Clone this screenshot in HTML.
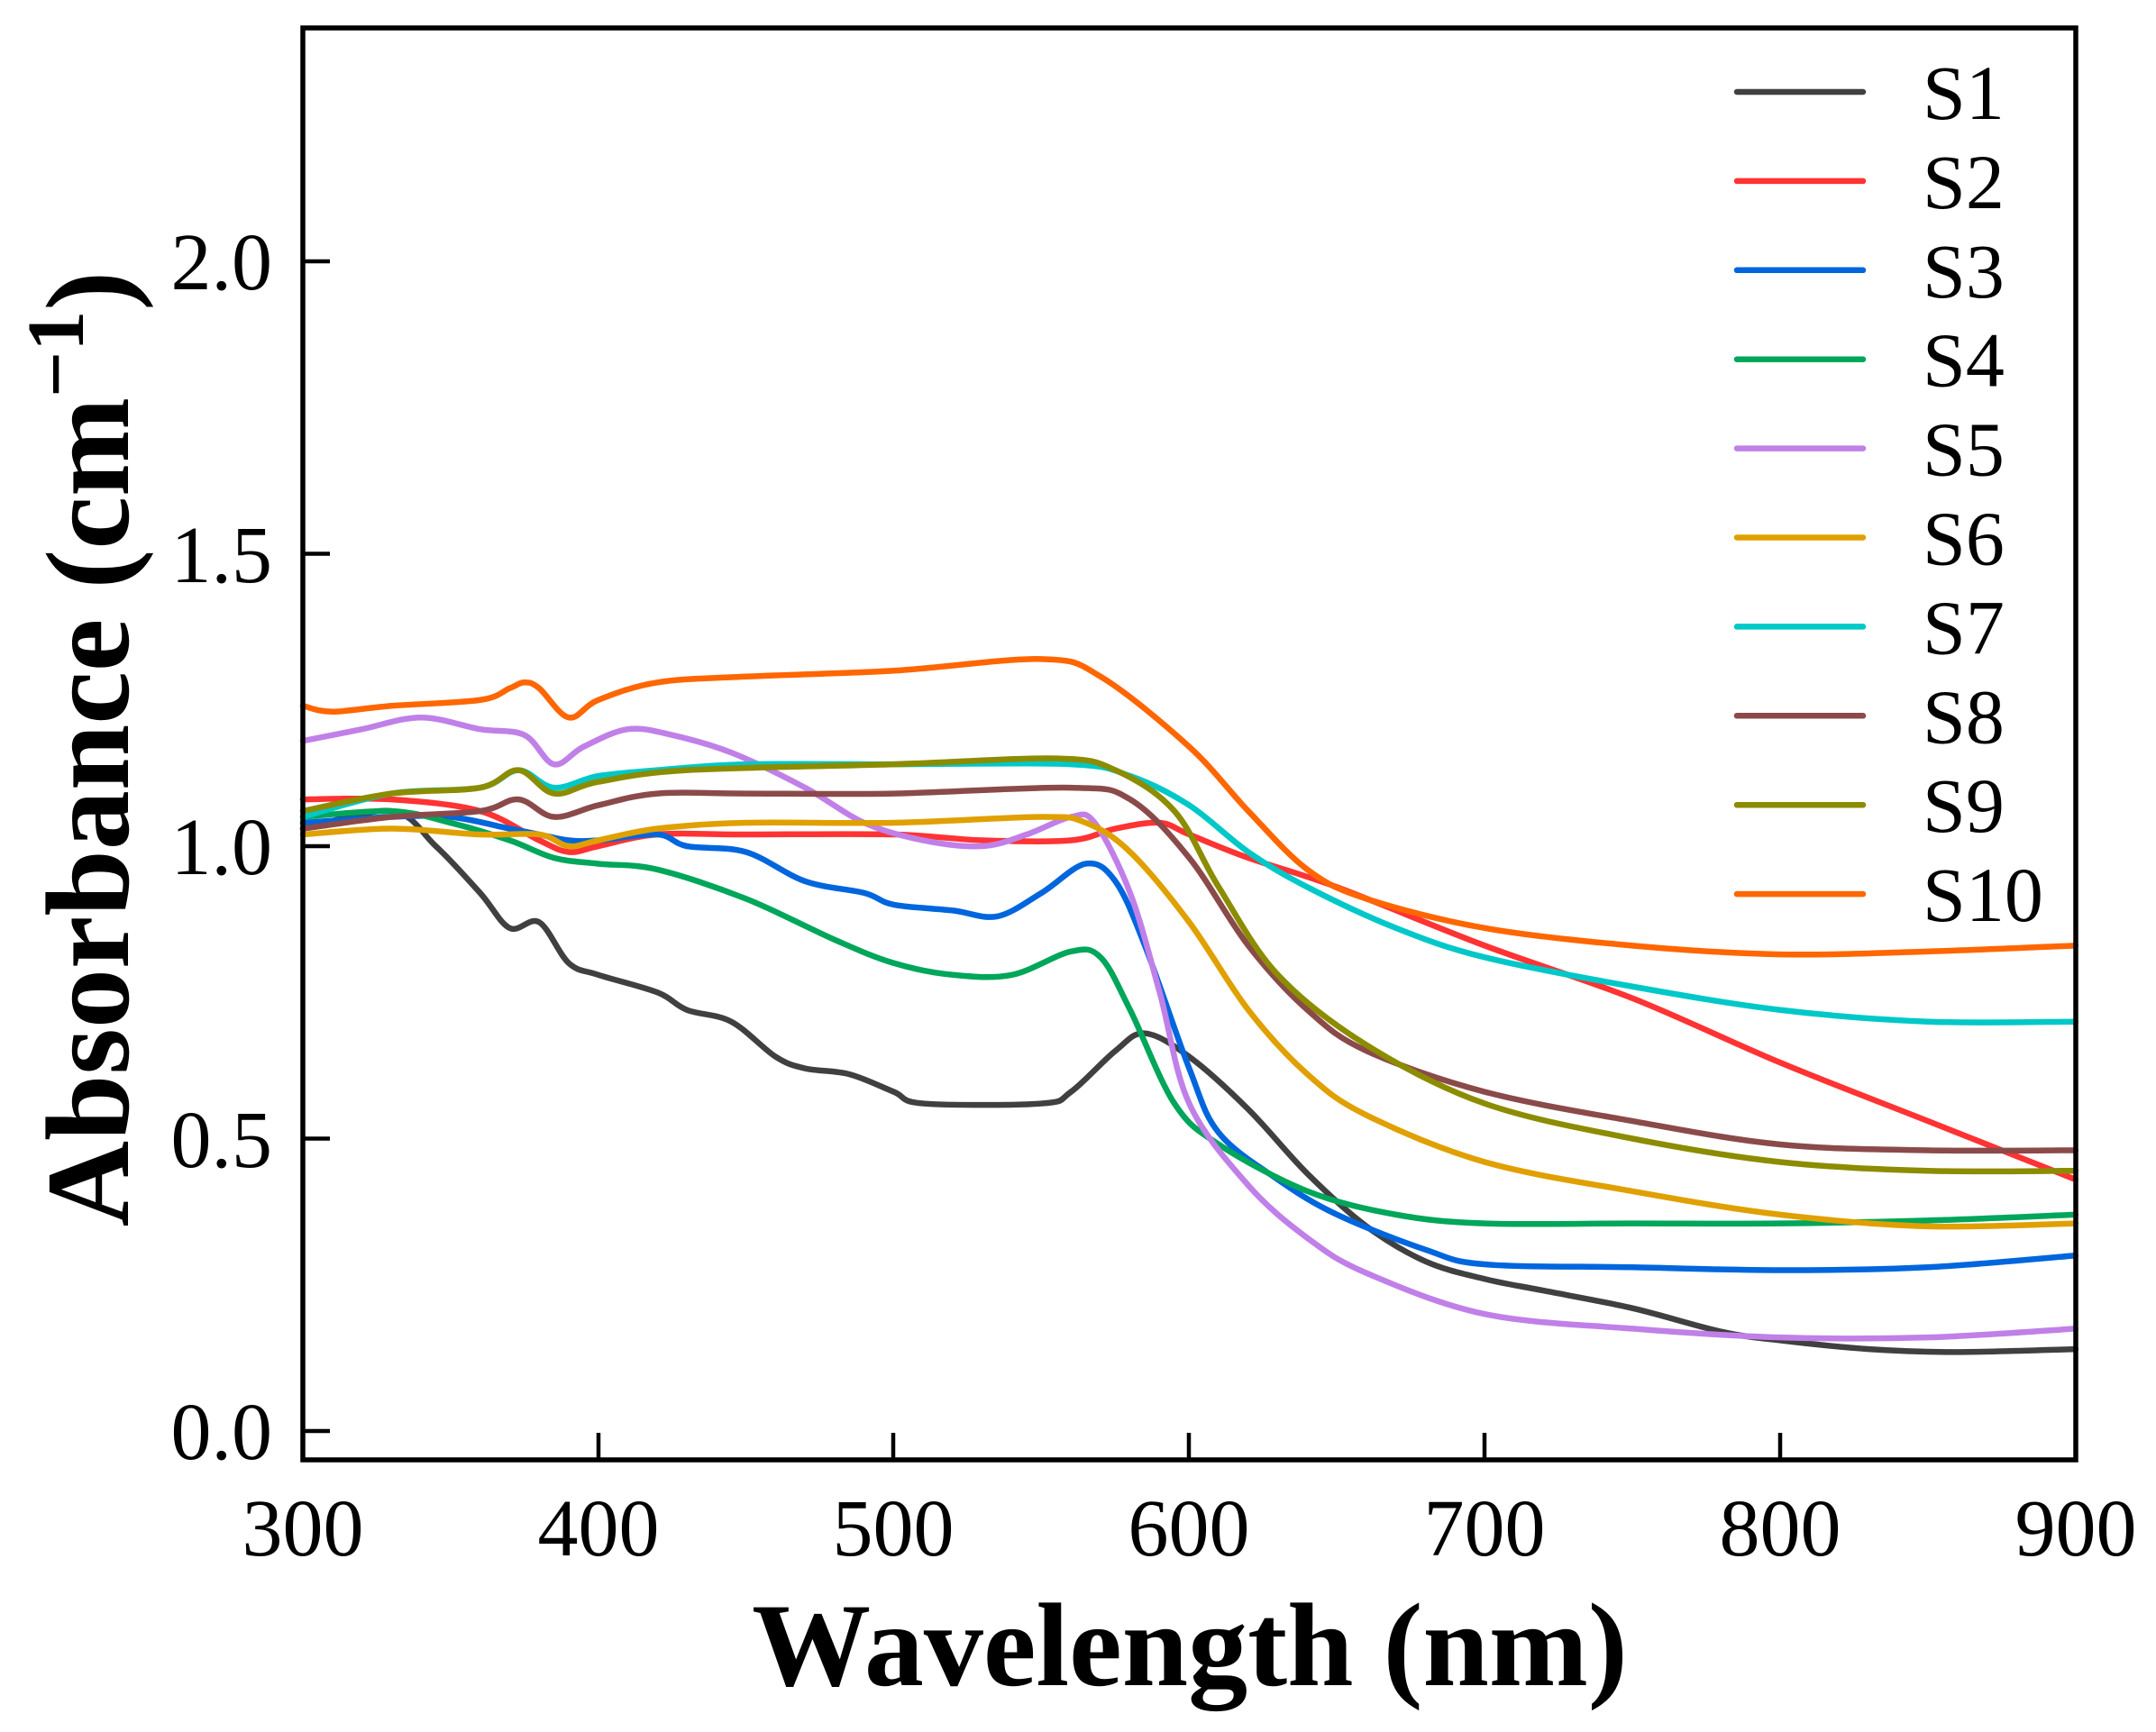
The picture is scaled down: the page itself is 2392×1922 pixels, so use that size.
<!DOCTYPE html>
<html><head><meta charset="utf-8"><style>
html,body{margin:0;padding:0;background:#fff}
svg{display:block}
text{font-family:"Liberation Serif",serif;fill:#000}
</style></head><body>
<svg id="s" width="2392" height="1922" viewBox="0 0 2392 1922" xmlns="http://www.w3.org/2000/svg">
<rect width="2392" height="1922" fill="#fff"/>
<g id="curves" fill="none" stroke-width="6.5" stroke-linejoin="round" stroke-linecap="round"></g>
<rect x="336" y="31" width="1967" height="1589" fill="none" stroke="#000" stroke-width="5.5"/>
<g stroke="#000" stroke-width="4.5">
<line x1="336" y1="1588" x2="366" y2="1588"/><line x1="336" y1="1263.5" x2="366" y2="1263.5"/>
<line x1="336" y1="939" x2="366" y2="939"/><line x1="336" y1="614.5" x2="366" y2="614.5"/>
<line x1="336" y1="290" x2="366" y2="290"/>
<line x1="664" y1="1620" x2="664" y2="1590"/><line x1="991" y1="1620" x2="991" y2="1590"/>
<line x1="1319" y1="1620" x2="1319" y2="1590"/><line x1="1647" y1="1620" x2="1647" y2="1590"/>
<line x1="1975" y1="1620" x2="1975" y2="1590"/>
</g>
<g font-size="90" text-anchor="end">
<text x="302" y="1619">0.0</text><text x="302" y="1295">0.5</text><text x="302" y="970">1.0</text>
<text x="302" y="646">1.5</text><text x="302" y="321">2.0</text>
</g>
<g font-size="90" text-anchor="middle">
<text x="336" y="1726">300</text><text x="664" y="1726">400</text><text x="991" y="1726">500</text>
<text x="1319" y="1726">600</text><text x="1647" y="1726">700</text><text x="1975" y="1726">800</text>
<text x="2303" y="1726">900</text>
</g>
<text x="1320" y="1870" font-size="132" font-weight="bold" text-anchor="middle">Wavelength (nm)</text>
<text transform="translate(142,831) rotate(-90)" font-size="132" font-weight="bold" text-anchor="middle">Absorbance (cm<tspan dy="-50" font-size="90">−1</tspan><tspan dy="50">)</tspan></text>
<g id="legend" font-size="86"></g>
</svg>
<script>
var D=[
["#404040",[[300,1.03],[330,1.06],[345,1.0],[360,0.92],[370,0.86],[380,0.87],[390,0.8],[400,0.78],[420,0.75],[430,0.72],[445,0.70],[460,0.64],[470,0.62],[485,0.61],[500,0.58],[510,0.56],[550,0.56],[560,0.58],[575,0.65],[585,0.68],[600,0.64],[620,0.55],[640,0.44],[660,0.35],[680,0.29],[700,0.26],[720,0.24],[750,0.21],[780,0.17],[800,0.155],[830,0.14],[860,0.135],[900,0.14]]],
["#ff3333",[[300,1.08],[330,1.08],[360,1.06],[380,1.01],[390,0.99],[400,1.0],[420,1.02],[450,1.02],[500,1.02],[530,1.01],[560,1.01],[575,1.03],[590,1.04],[600,1.02],[620,0.98],[650,0.93],[700,0.83],[750,0.74],[800,0.63],[850,0.53],[900,0.43]]],
["#0066dd",[[300,1.04],[330,1.05],[350,1.05],[370,1.03],[380,1.02],[390,1.01],[400,1.01],[420,1.02],[430,1.0],[450,0.99],[470,0.94],[490,0.92],[500,0.90],[520,0.89],[535,0.88],[550,0.92],[565,0.97],[575,0.94],[585,0.83],[600,0.62],[610,0.51],[630,0.43],[650,0.37],[680,0.31],[700,0.285],[750,0.28],[800,0.275],[850,0.28],[900,0.30]]],
["#00a65a",[[300,1.05],[330,1.06],[350,1.04],[370,1.01],[385,0.98],[400,0.97],[420,0.96],[450,0.91],[480,0.84],[500,0.80],[520,0.78],[540,0.78],[560,0.82],[570,0.81],[580,0.72],[595,0.56],[610,0.49],[640,0.41],[670,0.37],[700,0.355],[750,0.355],[800,0.355],[850,0.36],[900,0.37]]],
["#c080e8",[[300,1.18],[320,1.2],[340,1.22],[360,1.2],[375,1.19],[385,1.14],[395,1.17],[410,1.2],[425,1.19],[445,1.16],[470,1.1],[490,1.04],[510,1.01],[530,1.0],[545,1.02],[560,1.05],[568,1.04],[580,0.92],[590,0.75],[600,0.56],[620,0.42],[640,0.33],[660,0.27],[700,0.2],[750,0.175],[800,0.16],[850,0.16],[900,0.175]]],
["#e0a000",[[300,1.02],[330,1.03],[360,1.02],[380,1.02],[390,1.0],[400,1.01],[420,1.03],[450,1.04],[500,1.04],[550,1.05],[565,1.04],[580,0.99],[600,0.87],[620,0.72],[640,0.61],[660,0.54],[700,0.46],[750,0.41],[800,0.37],[850,0.35],[900,0.355]]],
["#00c8c8",[[300,1.05],[330,1.09],[360,1.1],[373,1.13],[385,1.1],[400,1.12],[420,1.13],[450,1.14],[500,1.14],[560,1.14],[580,1.12],[600,1.07],[620,0.99],[640,0.93],[670,0.86],[700,0.81],[750,0.76],[800,0.72],[850,0.70],[900,0.70]]],
["#8b4a4a",[[300,1.03],[330,1.05],[360,1.06],[373,1.08],[385,1.05],[400,1.07],[420,1.09],[450,1.09],[500,1.09],[560,1.1],[580,1.08],[600,0.98],[620,0.83],[640,0.72],[660,0.65],[700,0.58],[750,0.53],[800,0.49],[850,0.48],[900,0.48]]],
["#8c8c00",[[300,1.06],[330,1.09],[360,1.1],[373,1.13],[385,1.09],[400,1.11],[430,1.13],[500,1.14],[555,1.15],[575,1.13],[595,1.06],[610,0.93],[630,0.78],[660,0.66],[700,0.56],[750,0.50],[800,0.46],[850,0.445],[900,0.445]]],
["#ff6600",[[300,1.24],[310,1.23],[330,1.24],[360,1.25],[370,1.27],[375,1.28],[380,1.27],[390,1.22],[400,1.25],[420,1.28],[450,1.29],[500,1.30],[550,1.32],[570,1.29],[600,1.17],[620,1.06],[640,0.96],[660,0.91],[700,0.86],[750,0.83],[800,0.815],[850,0.82],[900,0.83]]]
];
var NS="http://www.w3.org/2000/svg";
function X(w){return 336+(w-300)*3.278}function Y(a){return 1588-a*649}
var g=document.getElementById("curves"),lg=document.getElementById("legend");
D.forEach(function(s,i){
 var p=s[1].map(function(q){return [X(q[0]),Y(q[1])]});
 var d="M"+p[0][0]+","+p[0][1];
 for(var k=0;k<p.length-1;k++){
  var p0=p[k-1]||p[k],p1=p[k],p2=p[k+1],p3=p[k+2]||p2;
  var c1x=p1[0]+(p2[0]-p0[0])/6,c1y=p1[1]+(p2[1]-p0[1])/6;
  var c2x=p2[0]-(p3[0]-p1[0])/6,c2y=p2[1]-(p3[1]-p1[1])/6;
  d+=" C"+c1x+","+c1y+" "+c2x+","+c2y+" "+p2[0]+","+p2[1];
 }
 var e=document.createElementNS(NS,"path");e.setAttribute("d",d);e.setAttribute("stroke",s[0]);g.appendChild(e);
 var yy=102+98.9*i;
 var l=document.createElementNS(NS,"line");
 l.setAttribute("x1",1927);l.setAttribute("x2",2067);l.setAttribute("y1",yy);l.setAttribute("y2",yy);
 l.setAttribute("stroke",s[0]);l.setAttribute("stroke-width",6.5);l.setAttribute("stroke-linecap","round");lg.appendChild(l);
 var t=document.createElementNS(NS,"text");t.setAttribute("x",2133);t.setAttribute("y",yy+30);t.textContent="S"+(i+1);lg.appendChild(t);
});
</script>
</body></html>
